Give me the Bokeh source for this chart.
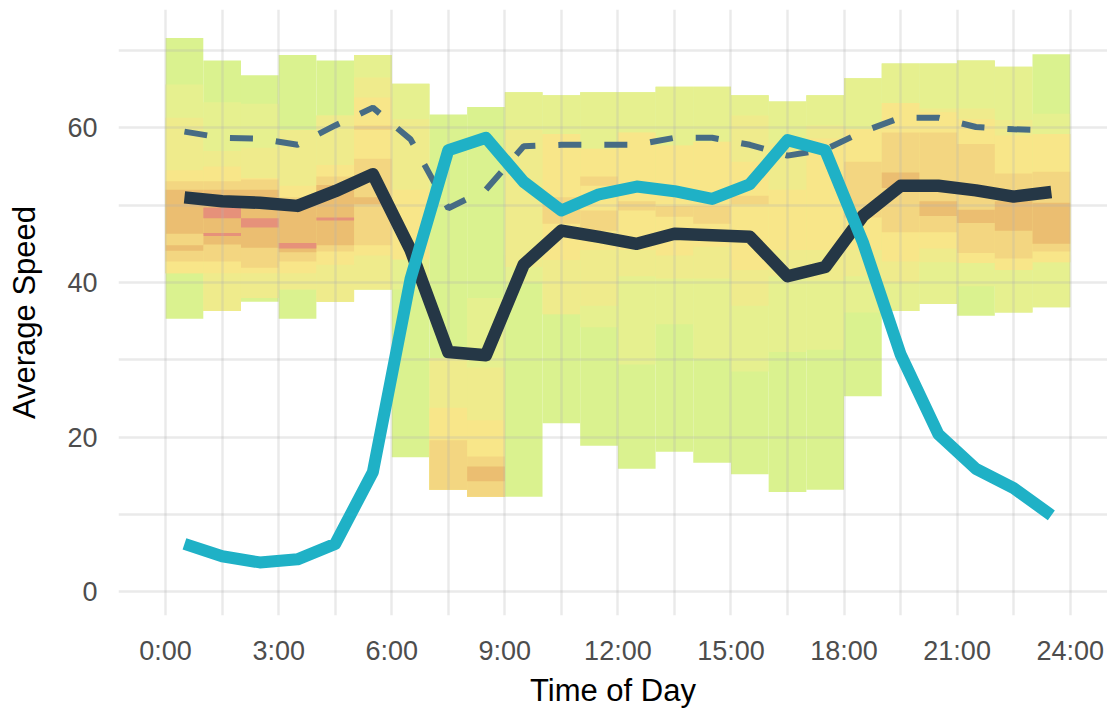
from bokeh.plotting import figure
from bokeh.models import FixedTicker, Range1d
from bokeh.embed import file_html
from bokeh.resources import INLINE

# ---- data -----------------------------------------------------------------
hours = list(range(24))
hour_mid = [h + 0.5 for h in hours]

avg_speed = [51.0, 50.5, 50.3, 49.9, 51.8, 54.0, 44.2, 31.0, 30.6, 42.3, 46.7, 45.9,
             45.0, 46.3, 46.1, 45.9, 40.8, 42.0, 48.6, 52.5, 52.5, 51.9, 51.1, 51.7]

speed_85th = [59.5, 58.7, 58.6, 57.8, 60.3, 62.6, 58.5, 49.6, 52.0, 57.6, 57.8, 57.8,
              57.8, 58.7, 58.7, 57.8, 56.4, 57.2, 59.5, 61.3, 61.3, 60.1, 59.8, 59.7]

traffic_volume = [6.2, 4.6, 3.8, 4.2, 6.2, 15.5, 40.5, 57.1, 58.7, 53.0, 49.3, 51.4,
                  52.4, 51.8, 50.8, 52.7, 58.4, 57.1, 45.2, 30.7, 20.4, 15.9, 13.4, 9.9]

# speed density bands per hour, from the widest (lightest) to the densest
band0_lo = [35.3, 36.3, 37.5, 35.3, 37.5, 39.1, 17.4, 13.2, 12.3, 12.3, 21.8, 18.9,
            15.9, 18.1, 16.7, 15.2, 12.9, 13.2, 25.3, 36.3, 37.2, 35.7, 36.1, 36.8]
band0_hi = [71.6, 68.7, 66.8, 69.4, 68.7, 69.4, 65.7, 61.7, 62.7, 64.6, 64.2, 64.6,
            64.6, 65.3, 65.3, 64.2, 63.4, 64.2, 66.4, 68.3, 68.3, 68.7, 67.9, 69.5]
band1_lo = [41.2, 36.3, 38.0, 39.1, 37.5, 39.1, 39.1, 13.2, 12.3, 40.0, 35.9, 34.2,
            29.4, 34.6, 30.1, 28.5, 31.0, 31.3, 36.1, 36.3, 37.2, 39.5, 36.1, 36.8]
band1_hi = [65.6, 63.3, 63.1, 59.7, 61.6, 69.4, 65.7, 30.2, 38.0, 64.6, 64.2, 64.6,
            64.6, 65.3, 65.3, 64.2, 63.4, 64.2, 66.4, 68.3, 68.3, 68.7, 67.9, 61.8]
band2_lo = [41.2, 36.3, 38.0, 39.1, 37.5, 39.1, 42.9, 13.2, 12.3, 42.0, 35.9, 37.0,
            40.8, 40.5, 40.5, 37.0, 40.8, 40.3, 40.8, 40.0, 42.6, 42.5, 41.6, 42.6]
band2_hi = [61.3, 57.0, 57.4, 59.7, 61.6, 66.5, 61.1, 30.2, 29.0, 59.7, 59.2, 57.3,
            59.4, 57.7, 58.2, 61.6, 58.0, 60.3, 59.8, 63.2, 62.5, 62.5, 61.0, 59.2]
band3_lo = [41.2, 41.2, 41.2, 41.2, 42.3, 43.5, 43.0, 13.2, 12.3, None, 42.9, 44.2,
            44.2, 43.5, 44.6, 41.6, 44.2, 44.2, 44.2, 42.7, 44.4, 42.5, 41.6, 42.6]
band3_hi = [54.5, 55.0, 53.5, 52.5, 55.2, 63.9, 52.0, 23.8, 22.2, None, 59.2, 57.3,
            59.4, 57.7, 58.2, 55.6, 52.0, 58.6, 59.8, 63.2, 62.0, 61.1, 59.0, 59.2]
band4_lo = [42.7, 42.7, 41.9, 42.7, 44.0, 44.8, None, 13.2, 12.3, None, 47.6, 46.7,
            49.3, 48.5, 47.6, 50.1, None, None, 48.4, 46.5, 46.5, 43.8, 43.1, 44.0]
band4_hi = [53.1, 53.1, 53.3, 51.0, 53.7, 56.0, None, 19.6, 17.5, None, 51.0, 53.7,
            50.5, 49.9, 49.9, 51.2, None, None, 55.6, 59.4, 59.4, 57.9, 54.1, 54.3]
band5_lo = [44.1, 44.9, 44.5, 43.9, 44.8, 50.1, None, None, 14.3, None, None, None,
            None, None, None, None, None, None, None, 52.2, 48.6, 47.7, 46.7, 45.0]
band5_hi = [52.0, 52.0, 52.0, 50.1, 52.6, 51.0, None, None, 16.2, None, None, None,
            None, None, None, None, None, None, None, 54.2, 50.5, 49.4, 50.5, 50.3]

# narrow stripes drawn over the bands: hour, low, high, colour level
stripe_hour = [1, 1, 2, 3, 4, 0, 5, 11]
stripe_lo = [48.3, 46.0, 47.1, 44.4, 48.0, 44.8, 59.7, 49.3]
stripe_hi = [49.7, 46.4, 48.3, 45.1, 48.4, 46.3, 60.3, 52.5]
stripe_level = [6, 6, 6, 6, 6, 4, 4, 3]

x_ticks = [0, 3, 6, 9, 12, 15, 18, 21, 24]
x_tick_labels = ["0:00", "3:00", "6:00", "9:00", "12:00", "15:00", "18:00", "21:00", "24:00"]
y_ticks = [0, 20, 40, 60]

# ---- styling ----------------------------------------------------------------
band_colors = ["#daf28f", "#e6f08f", "#efeb8c", "#f8e689", "#f3d681", "#ebbe71", "#e6917a"]
FONT = "Liberation Sans"

p = figure(width=1107, height=710, output_backend="svg", toolbar_location=None,
           x_range=Range1d(-1.25, 24.99), y_range=Range1d(-3.06, 75.29),
           min_border_left=118, min_border_right=0, min_border_top=9, min_border_bottom=86)
p.outline_line_color = None
p.background_fill_color = "white"
p.border_fill_color = "white"

bands = [(band0_lo, band0_hi), (band1_lo, band1_hi), (band2_lo, band2_hi),
         (band3_lo, band3_hi), (band4_lo, band4_hi), (band5_lo, band5_hi)]
for level, (lo, hi) in enumerate(bands):
    idx = [h for h in hours if lo[h] is not None]
    p.quad(left=[h for h in idx], right=[h + 1 for h in idx],
           bottom=[lo[h] for h in idx], top=[hi[h] for h in idx],
           fill_color=band_colors[level], line_color=None, level="image")

p.quad(left=stripe_hour, right=[h + 1 for h in stripe_hour],
       bottom=stripe_lo, top=stripe_hi,
       fill_color=[band_colors[k] for k in stripe_level], line_color=None, level="image")

p.line(hour_mid, speed_85th, line_color="#476c84", line_width=6, line_dash="23 23")
p.line(hour_mid, avg_speed, line_color="#253746", line_width=12.5, line_join="round")
p.line(hour_mid, traffic_volume, line_color="#1fb1c6", line_width=12, line_join="round")

# axes
p.xaxis.ticker = FixedTicker(ticks=x_ticks, minor_ticks=[t + 1.5 for t in x_ticks])
p.xaxis.major_label_overrides = {t: lab for t, lab in zip(x_ticks, x_tick_labels)}
p.yaxis.ticker = FixedTicker(ticks=y_ticks, minor_ticks=[t + 10 for t in y_ticks])
p.xaxis.axis_label = "Time of Day"
p.yaxis.axis_label = "Average Speed"
for ax in (p.xaxis, p.yaxis):
    ax.axis_line_color = None
    ax.major_tick_line_color = None
    ax.minor_tick_line_color = None
    ax.major_label_text_font = FONT
    ax.major_label_text_font_size = "27px"
    ax.major_label_text_color = "#4d4d4d"
    ax.axis_label_text_font = FONT
    ax.axis_label_text_font_size = "31px"
    ax.axis_label_text_font_style = "normal"
    ax.axis_label_text_color = "black"
p.xaxis.major_label_standoff = 14
p.xaxis.axis_label_standoff = 4
p.yaxis.major_label_standoff = 15
p.yaxis.axis_label_standoff = 22

for g in (p.xgrid, p.ygrid):
    g.grid_line_color = "#b0b0b0"
    g.grid_line_alpha = 0.27
    g.grid_line_width = 2.5
    g.minor_grid_line_color = "#b0b0b0"
    g.minor_grid_line_alpha = 0.27
    g.minor_grid_line_width = 2.5

open("out.html", "w").write(file_html(p, INLINE))
